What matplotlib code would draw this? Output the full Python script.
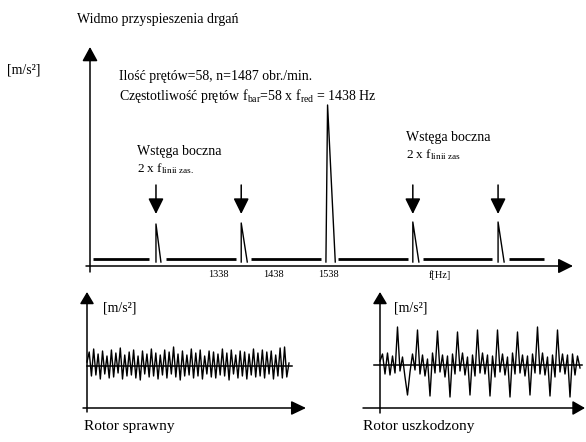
import matplotlib
matplotlib.use("Agg")
import matplotlib.pyplot as plt
import numpy as np
from matplotlib.patches import ArrowStyle

# ---------------- data ----------------
tick_freqs = [1338, 1438, 1538]
tick_labels = ["1338", "1438", "1538"]

peak_freqs = [1224, 1379, 1536, 1691, 1846]          # top of each spectral line [Hz]
peak_amps = [0.42, 0.43, 1.61, 0.44, 0.44]           # amplitude of each line
peak_left = [1224, 1379, 1533, 1691, 1846]           # left foot [Hz]
peak_right = [1233, 1390, 1550, 1702, 1857]          # right foot [Hz]
sideband_freqs = [1224, 1379, 1691, 1846]            # marked side bands
noise_level = 0.07
foot_level = 0.04
seg_start = [1110, 1242, 1397, 1555, 1709, 1866]     # noise-floor pieces [Hz]
seg_end = [1211, 1369, 1524, 1682, 1835, 1929]

healthy_signal = [0.4, 1.4, -1.0, 1.7, -0.9, 1.2, -1.3, 1.5, -0.8, 1.0,
                  -1.2, 1.6, -1.1, 1.3, -0.7, 1.8, -1.3, 1.1, -1.0, 1.4,
                  -0.9, 1.6, -1.2, 1.0, -1.4, 1.5, -0.8, 1.2, -1.1, 1.7,
                  -1.0, 1.3, -1.3, 1.1, -0.9, 1.6, -1.2, 1.4, -0.8, 1.9,
                  -1.1, 1.2, -1.4, 1.5, -1.0, 1.1, -0.9, 1.7, -1.2, 1.3,
                  -1.0, 1.6, -1.3, 1.0, -0.8, 1.5, -1.1, 1.4, -1.2, 1.2,
                  -0.9, 1.7, -1.0, 1.3, -1.4, 1.6, -0.8, 1.1, -1.2, 1.5,
                  -1.0, 1.4, -1.3, 1.2, -0.9, 1.7, -1.1, 1.3, -1.0, 1.6,
                  -1.2, 1.4, -0.8, 1.5, -1.3, 1.1, -1.0, 1.8, -1.2, 1.9,
                  -1.1, 0.3]

damaged_signal = [0.4, 1.1, -0.9, 1.2, -1.0, 0.9, -0.8, 3.8, -0.6, 0.8,
                  -1.2, -3.0, -0.7, 1.1, -0.5, 3.5, -0.9, 1.0, -1.1, 0.6,
                  -3.1, 1.2, -0.8, 3.4, -0.7, 1.0, -1.2, 0.9, -3.2, 1.1,
                  -0.9, 3.3, -0.6, 1.2, -1.0, 0.8, -3.0, 1.0, -1.1, 3.5,
                  -0.8, 1.2, -0.9, 1.0, -3.1, 0.9, -1.2, 3.5, -0.7, 1.1,
                  -1.0, 0.8, -3.2, 1.2, -0.9, 3.3, -0.8, 1.0, -1.1, 0.9,
                  -3.0, 1.1, -0.8, 3.8, -0.9, 1.2, -1.0, 0.8, -3.1, 1.0,
                  -1.2, 3.5, -0.7, 1.1, -0.9, 1.0, -3.2, 1.1, -1.0, 0.9, -0.3]

# ---------------- figure ----------------
plt.rcParams["font.family"] = ["Liberation Serif", "DejaVu Serif"]
plt.rcParams["mathtext.fontset"] = "custom"
plt.rcParams["mathtext.rm"] = "Liberation Serif"
plt.rcParams["mathtext.it"] = "Liberation Serif:italic"
plt.rcParams["mathtext.bf"] = "Liberation Serif:bold"

W, H = 586, 442
fig = plt.figure(figsize=(W / 100, H / 100), dpi=100)
fig.patch.set_facecolor("white")


def px_axes(x0, y0, x1, y1):
    ax = fig.add_axes([x0 / W, 1 - y1 / H, (x1 - x0) / W, (y1 - y0) / H])
    ax.patch.set_alpha(0)
    for s in ax.spines.values():
        s.set_visible(False)
    return ax


def ftext(x, y, s, **kw):
    kw.setdefault("va", "baseline")
    kw.setdefault("ha", "left")
    kw.setdefault("fontsize", 10)
    fig.text(x / W, 1 - y / H, s, **kw)


def arrow(ax, tail, tip, hl, hw, lw=1.1):
    ax.annotate("", xy=tip, xytext=tail, annotation_clip=False,
                arrowprops=dict(arrowstyle=ArrowStyle("-|>", head_length=hl, head_width=hw),
                                mutation_scale=1, lw=lw, color="black",
                                shrinkA=0, shrinkB=0, clip_on=False))


# ---- main spectrum axes (px box 0..586 x 0..266) ----
def fx(px):
    return 1438 + (px - 273.67) / 0.55


def ay(py):
    return (266 - py) / 100.0


axm = px_axes(0, 0, W, 266)
axm.set_xlim(fx(0), fx(W))
axm.set_ylim(0, ay(0))
axm.set_yticks([])
axm.set_xticks(tick_freqs)
axm.set_xticklabels(tick_labels, fontsize=7.5)
axm.tick_params(axis="x", length=0, pad=3)

for a, b in zip(seg_start, seg_end):
    axm.plot([a, b], [noise_level, noise_level], color="black", lw=2.0,
             solid_capstyle="butt", clip_on=False)
for l, f, r, h in zip(peak_left, peak_freqs, peak_right, peak_amps):
    axm.plot([l, f, r], [foot_level, h, foot_level], color="black", lw=1.0,
             clip_on=False)
for f in sideband_freqs:
    arrow(axm, (f, ay(185)), (f, ay(214)), 9.5, 4.7, lw=1.1)

arrow(axm, (fx(90), ay(272)), (fx(90), ay(47)), 8.6, 4.7, lw=1.1)
arrow(axm, (fx(86), 0), (fx(573), 0), 9.0, 4.5, lw=1.1)
axm.text(fx(440), ay(278), "f[Hz]", fontsize=7.5, ha="center", va="baseline")

# ---- lower left: healthy rotor ----
def tl(px):
    return (px - 87) / 202.0


def al(py):
    return (366 - py) / 10.0


axl = px_axes(70, 285, 315, 420)
axl.set_xlim(tl(70), tl(315))
axl.set_ylim(al(420), al(285))
axl.set_xticks([])
axl.set_yticks([])
tL = np.linspace(0, 1, len(healthy_signal))
axl.plot(tL, healthy_signal, color="black", lw=1.0, clip_on=False)
axl.plot([0, tl(292)], [0, 0], color="black", lw=1.1, clip_on=False)
arrow(axl, (0, al(412)), (0, al(292)), 7.2, 4.3)
arrow(axl, (tl(83), al(408)), (tl(306), al(408)), 9.0, 4.3)

# ---- lower right: damaged rotor ----
def tr(px):
    return (px - 380) / 200.0


def ar(py):
    return (365 - py) / 10.0


axr = px_axes(355, 285, W, 420)
axr.set_xlim(tr(355), tr(W))
axr.set_ylim(ar(420), ar(285))
axr.set_xticks([])
axr.set_yticks([])
tR = np.linspace(0, 1, len(damaged_signal))
axr.plot(tR, damaged_signal, color="black", lw=1.0, clip_on=False)
axr.plot([tr(374), tr(582)], [0, 0], color="black", lw=1.1, clip_on=False)
arrow(axr, (0, ar(413)), (0, ar(292)), 7.2, 4.3)
arrow(axr, (tr(363), ar(408)), (tr(585), ar(408)), 7.5, 4.3)

# ---- texts ----
ftext(77, 23, "Widmo przyspieszenia drgań")
ftext(7, 74, "[m/s²]")
ftext(119, 80, "Ilość prętów=58, n=1487 obr./min.")
ftext(119, 100, r"Częstotliwość prętów f$_{\mathrm{bar}}$=58 x f$_{\mathrm{red}}$ = 1438 Hz")
ftext(137, 155, "Wstęga boczna")
ftext(137, 172, r"2 x f$_{\mathrm{linii\ zas.}}$", fontsize=9.5)
ftext(406, 141, "Wstęga boczna")
ftext(406, 158, r"2 x f$_{\mathrm{linii\ zas}}$", fontsize=9.5)
ftext(103, 311, "[m/s²]")
ftext(394, 311, "[m/s²]")
ftext(84, 430, "Rotor sprawny", fontsize=11)
ftext(363, 430, "Rotor uszkodzony", fontsize=11)

fig.savefig("out.png", dpi=100, facecolor="white")
